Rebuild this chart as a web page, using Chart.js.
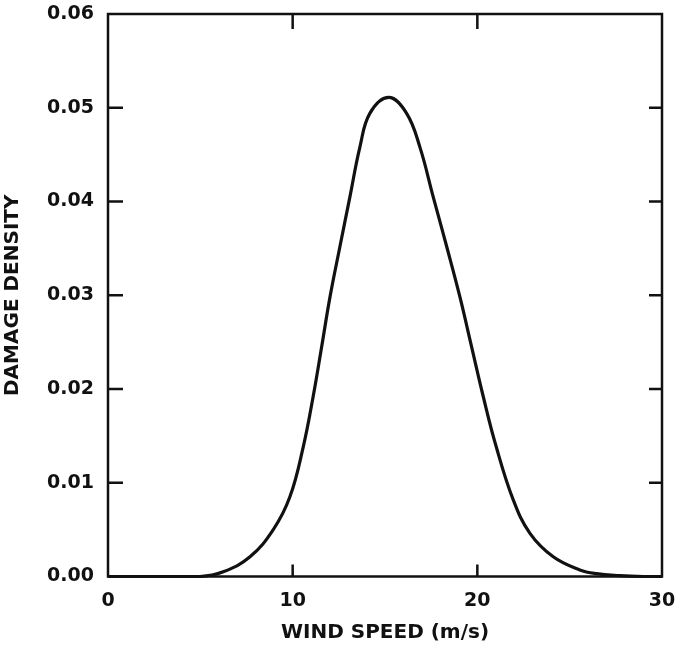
<!DOCTYPE html>
<html>
  <head>
    <title>Damage Density</title>
    <script src="https://cdn.jsdelivr.net/npm/chart.js"></script>
    <style>
      body { margin: 0; background: #fff; }
    </style>
  </head>
  <body>
    <canvas id="damage-chart" width="678" height="646"></canvas>

    <script>
      // points
      const windSpeed = [0, 4.98, 6.24, 7.69, 8.95, 9.85, 10.57, 11.11, 11.57, 12.02, 12.56, 13.1, 13.64, 14.18,
        15.2, 16.17, 16.89, 17.61, 18.34, 19.06, 19.69, 20.32, 21.0, 21.94, 22.85, 24.11, 25.55, 26.46, 27.7, 29, 30];
      const damage = [0, 0, 0.0005, 0.0021, 0.005, 0.0085, 0.0138, 0.0192, 0.0245, 0.0298, 0.0352, 0.0405, 0.0458, 0.0494,
        0.0511, 0.0494, 0.0458, 0.0405, 0.0352, 0.0298, 0.0245, 0.0192, 0.014, 0.0082, 0.0046, 0.0021, 0.0007, 0.0003, 0.0001, 0, 0];

      const xTicks = [0, 10, 20, 30];
      const yTicks = [0, 0.01, 0.02, 0.03, 0.04, 0.05, 0.06];

      const ink = "#111";
      const points = windSpeed.map((x, i) => ({ x: x, y: damage[i] }));

      // frame plus inward tick marks, placed with the chart's own scales
      const framePlugin = {
        id: "frame",
        afterDatasetsDraw(chart) {
          const { ctx, chartArea: a, scales } = chart;
          ctx.save();
          ctx.strokeStyle = ink;
          ctx.lineWidth = 2.5;
          ctx.strokeRect(a.left, a.top, a.right - a.left, a.bottom - a.top);
          ctx.beginPath();
          yTicks.slice(1, -1).forEach((v) => {
            const y = scales.y.getPixelForValue(v);
            ctx.moveTo(a.left, y);
            ctx.lineTo(a.left + 15, y);
            ctx.moveTo(a.right, y);
            ctx.lineTo(a.right - 13, y);
          });
          xTicks.slice(1, -1).forEach((v) => {
            const x = scales.x.getPixelForValue(v);
            ctx.moveTo(x, a.bottom);
            ctx.lineTo(x, a.bottom - 12);
            ctx.moveTo(x, a.top);
            ctx.lineTo(x, a.top + 15);
          });
          ctx.stroke();
          ctx.restore();
        },
      };

      const ctx = document.getElementById("damage-chart").getContext("2d");
      new Chart(ctx, {
        type: "scatter",
        data: {
          datasets: [
            {
              data: points,
              showLine: true,
              borderColor: ink,
              borderWidth: 3.2,
              pointRadius: 0,
              tension: 0.4,
              clip: false,
            },
          ],
        },
        options: {
          responsive: false,
          animation: false,
          layout: { padding: { top: 14, right: 16, left: 0, bottom: 0 } },
          plugins: { legend: { display: false }, tooltip: { enabled: false } },
          scales: {
            x: {
              type: "linear",
              min: 0,
              max: 30,
              afterFit: (s) => {
                s.height = 69.5;
                s.paddingLeft = 0;
                s.paddingRight = 0;
              },
              grid: { display: false, drawTicks: false },
              border: { display: false },
              afterBuildTicks: (s) => { s.ticks = xTicks.map((v) => ({ value: v })); },
              ticks: {
                color: ink,
                padding: 13,
                font: { family: "DejaVu Sans", weight: "bold", size: 19 },
                maxRotation: 0,
              },
              title: {
                display: true,
                text: "WIND SPEED (m/s)",
                color: ink,
                font: { family: "DejaVu Sans", weight: "bold", size: 20 },
                padding: { top: 0, bottom: 1 },
              },
            },
            y: {
              min: 0,
              max: 0.06,
              afterFit: (s) => {
                s.width = 108;
                s.paddingTop = 0;
                s.paddingBottom = 0;
              },
              grid: { display: false, drawTicks: false },
              border: { display: false },
              afterBuildTicks: (s) => { s.ticks = yTicks.map((v) => ({ value: v })); },
              ticks: {
                color: ink,
                padding: 14,
                font: { family: "DejaVu Sans", weight: "bold", size: 19 },
                callback: (v) => v.toFixed(2),
              },
              title: {
                display: true,
                text: "DAMAGE DENSITY",
                color: ink,
                font: { family: "DejaVu Sans", weight: "bold", size: 20 },
                padding: { top: 1, bottom: 0 },
              },
            },
          },
        },
        plugins: [framePlugin],
      });
    </script>
  </body>
</html>
